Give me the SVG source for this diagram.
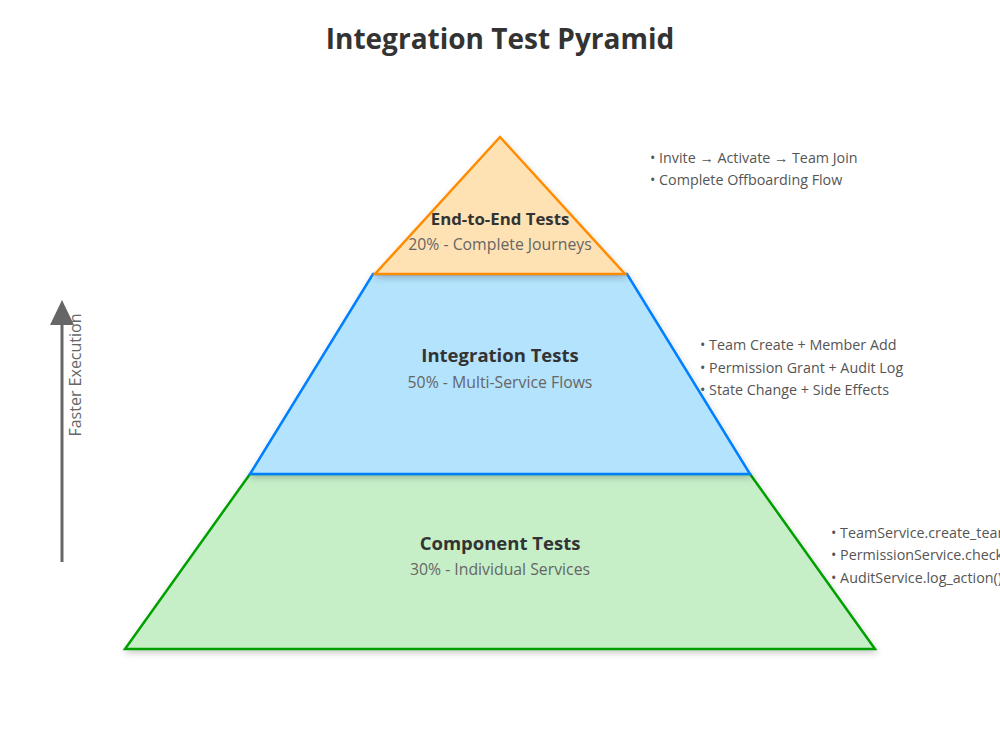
<svg xmlns="http://www.w3.org/2000/svg" width="1000" height="750" viewBox="0 0 1000 750">
<defs>
<style>
text{font-family:"Open Sans","Noto Sans","Liberation Sans",sans-serif;}
.title{font-size:28px;font-weight:bold;fill:#333;text-anchor:middle;}
.lbl{font-size:18.5px;font-weight:bold;fill:#333;text-anchor:middle;}
.sub{font-size:15.8px;fill:#666;text-anchor:middle;}
.note{font-size:14.3px;fill:#555;}
.axis{font-size:16px;fill:#666;text-anchor:middle;}
</style>
<filter id="sh" x="-10%" y="-10%" width="120%" height="130%">
<feDropShadow dx="1" dy="3" stdDeviation="3" flood-color="#000" flood-opacity="0.2"/>
</filter>
</defs>
<rect width="1000" height="750" fill="#fff"/>
<text class="title" x="500" y="49">Integration Test Pyramid</text>

<g id="component">
<polygon points="250,474 750,474 875,649 125,649" fill="#c6efc8" stroke="#00a000" stroke-width="2.5" filter="url(#sh)"/>
<text class="lbl" x="500" y="550">Component Tests</text>
<text class="sub" x="500" y="575">30% - Individual Services</text>
</g>
<g id="integration">
<polygon points="373,274 627,274 750,474 250,474" fill="#b3e3fd" stroke="#0080ff" stroke-width="2.5" filter="url(#sh)"/>
<text class="lbl" x="500" y="362">Integration Tests</text>
<text class="sub" x="500" y="388">50% - Multi-Service Flows</text>
</g>
<g id="e2e">
<polygon points="500,137 625,274 375,274" fill="#ffe2b3" stroke="#ff8c00" stroke-width="2.5" filter="url(#sh)"/>
<text class="lbl" x="500" y="225" style="font-size:16.8px">End-to-End Tests</text>
<text class="sub" x="500" y="250">20% - Complete Journeys</text>
</g>

<g id="notes-e2e">
<text class="note" x="650" y="163">• Invite → Activate → Team Join</text>
<text class="note" x="650" y="185">• Complete Offboarding Flow</text>
</g>
<g id="notes-integration">
<text class="note" x="700" y="350">• Team Create + Member Add</text>
<text class="note" x="700" y="373">• Permission Grant + Audit Log</text>
<text class="note" x="700" y="395">• State Change + Side Effects</text>
</g>
<g id="notes-component">
<text class="note" x="831" y="538">• TeamService.create_team()</text>
<text class="note" x="831" y="560">• PermissionService.check()</text>
<text class="note" x="831" y="583">• AuditService.log_action()</text>
</g>

<g id="connectors">
<line x1="62" y1="562" x2="62" y2="325" stroke="#666" stroke-width="3"/>
<polygon points="62,300 74,325 50,325" fill="#666"/>
</g>
<g id="axis-label">
<text class="axis" transform="translate(81,375) rotate(-90)">Faster Execution</text>
</g>
</svg>
